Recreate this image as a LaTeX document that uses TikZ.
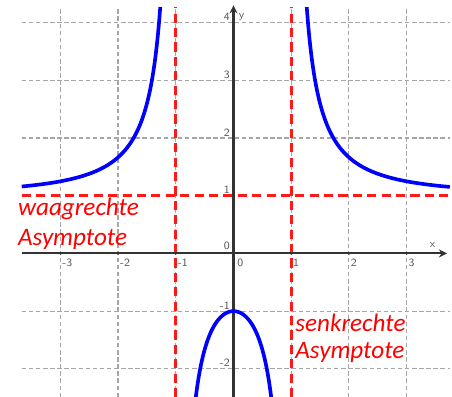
\documentclass[tikz,border=0pt]{standalone}
\usepackage{fontspec}
\setmainfont{Carlito}
\usetikzlibrary{arrows.meta}
\tikzset{
  gridline/.style={draw=gray!70, line width=0.6pt, dash pattern=on 2.2pt off 1.3pt},
  asym/.style={draw=red!90!white, line width=1.4pt, dash pattern=on 4.5pt off 2.6pt},
  graphline/.style={draw=blue, line width=1.8pt},
  axisline/.style={draw=black!80, line width=1pt, -{Stealth[length=4pt,width=4pt]}},
  ticklab/.style={font=\sffamily\fontsize{5.5}{6}\selectfont, text=black!65, inner sep=0.8pt},
  asymtext/.style={font=\fontsize{12.4}{14}\selectfont\itshape, text=red, inner sep=0pt, anchor=west},
}
\begin{document}
\begin{tikzpicture}
\useasboundingbox (-4.047,-2.487) rectangle (3.787,4.393);
% grid
\foreach \x in {-3,-2,-1,1,2,3} \draw[gridline] (\x,-2.49) -- (\x,4.27);
\foreach \y in {-2,-1,2,3,4} \draw[gridline] (-3.67,\y) -- (3.75,\y);
% asymptotes
\draw[asym] (-3.67,1) -- (3.75,1);
\draw[asym] (-1,-2.49) -- (-1,4.27);
\draw[asym] (1,-2.49) -- (1,4.27);
% axes
\coordinate (xs) at (-3.67,0);
\coordinate (xe) at (3.7,0);
\coordinate (ys) at (0,-2.49);
\coordinate (ye) at (0,4.3);
\draw[axisline] (xs) -- (xe);
\draw[axisline] (ys) -- (ye);
\foreach \x in {-3,-2,-1,1,2,3} \fill[black!80] (\x,0) circle (0.7pt);
\foreach \y in {-2,-1,1,2,3,4} \fill[black!80] (0,\y) circle (0.7pt);
% tick labels
\foreach \x in {-3,-2,-1,1,2,3} \node[ticklab, anchor=north west] (lx\x) at (\x,-0.06) {\x};
\foreach \y in {-2,-1,1,2,3,4} \node[ticklab, anchor=south east] (ly\y) at (-0.03,\y) {\y};
\node[ticklab, anchor=north west] (lx0) at (0.03,-0.06) {0};
\node[ticklab, anchor=south east] (ly0) at (-0.03,0.03) {0};
\node[ticklab, anchor=south] (xl) at (3.45,0.06) {x};
\node[ticklab, anchor=west] (yl) at (0.06,4.1) {y};
% graph
\draw[graphline] plot[domain=-3.67:-1.2695, samples=120, smooth] (\x,{(\x*\x+1)/(\x*\x-1)});
\draw[graphline] plot[domain=1.2695:3.75, samples=120, smooth] (\x,{(\x*\x+1)/(\x*\x-1)});
\draw[graphline] plot[domain=-0.6534:0.6534, samples=80, smooth] (\x,{(\x*\x+1)/(\x*\x-1)});
% texts
\node[asymtext] (w1) at (-3.74,0.77) {waagrechte};
\node[asymtext] (w2) at (-3.74,0.234) {Asymptote};
\node[asymtext] (s1) at (1.066,-1.204) {senkrechte};
\node[asymtext] (s2) at (1.066,-1.724) {Asymptote};
\end{tikzpicture}
\end{document}
